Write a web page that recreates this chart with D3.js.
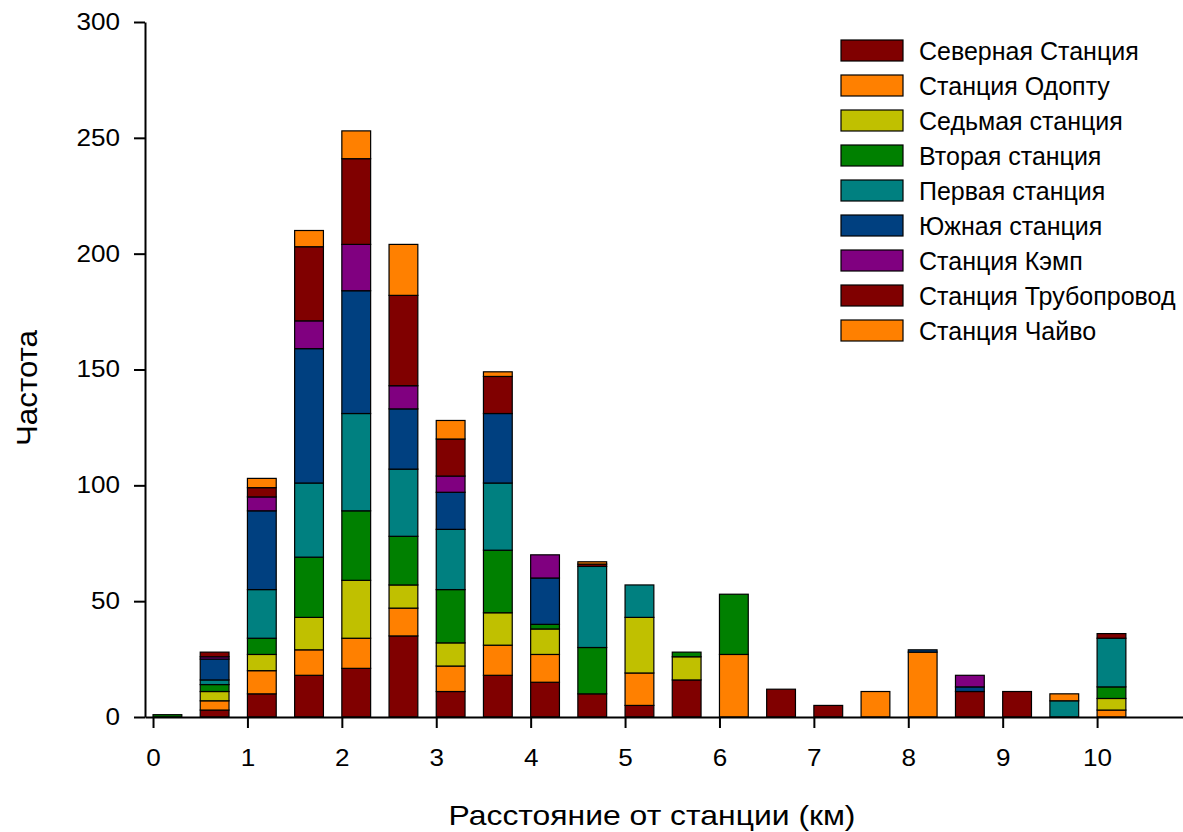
<!DOCTYPE html>
<html>
<head>
<meta charset="utf-8">
<script src="https://cdn.jsdelivr.net/npm/d3@7"></script>
<style>
  body { margin: 0; background: #fff; }
  text { font-family: "Liberation Sans", Arial, sans-serif; }
</style>
</head>
<body>
<svg width="1183" height="832"></svg>
<script>
// left edge of each bin (km)
var bins = [0, 0.5, 1, 1.5, 2, 2.5, 3, 3.5, 4, 4.5, 5, 5.5, 6, 6.5, 7, 7.5, 8, 8.5, 9, 9.5, 10];

var stations = ["Северная Станция", "Станция Одопту", "Седьмая станция", "Вторая станция",
  "Первая станция", "Южная станция", "Станция Кэмп", "Станция Трубопровод", "Станция Чайво"];
var colors = ["#800000", "#ff8000", "#c0c000", "#008000", "#008080", "#004080", "#800080", "#800000", "#ff8000"];

var severnaya   = [0, 3, 10, 18, 21, 35, 11, 18, 15, 10, 5, 16, 0, 12, 5, 0, 0, 11, 11, 0, 0];
var odoptu      = [0, 4, 10, 11, 13, 12, 11, 13, 12, 0, 14, 0, 27, 0, 0, 11, 28, 0, 0, 0, 3];
var sedmaya     = [0, 4, 7, 14, 25, 10, 10, 14, 11, 0, 24, 10, 0, 0, 0, 0, 0, 0, 0, 0, 5];
var vtoraya     = [1, 3, 7, 26, 30, 21, 23, 27, 2, 20, 0, 2, 26, 0, 0, 0, 0, 0, 0, 0, 5];
var pervaya     = [0, 2, 21, 32, 42, 29, 26, 29, 0, 35, 14, 0, 0, 0, 0, 0, 0, 0, 0, 7, 21];
var yuzhnaya    = [0, 9, 34, 58, 53, 26, 16, 30, 20, 0, 0, 0, 0, 0, 0, 0, 1, 2, 0, 0, 0];
var kemp        = [0, 1, 6, 12, 20, 10, 7, 0, 10, 0, 0, 0, 0, 0, 0, 0, 0, 5, 0, 0, 0];
var truboprovod = [0, 2, 4, 32, 37, 39, 16, 16, 0, 1, 0, 0, 0, 0, 0, 0, 0, 0, 0, 0, 2];
var chaivo      = [0, 0, 4, 7, 12, 22, 8, 2, 0, 1, 0, 0, 0, 0, 0, 0, 0, 0, 0, 3, 0];

var series = [severnaya, odoptu, sedmaya, vtoraya, pervaya, yuzhnaya, kemp, truboprovod, chaivo];

var xTicks = [0, 1, 2, 3, 4, 5, 6, 7, 8, 9, 10];
var yTicks = [0, 50, 100, 150, 200, 250, 300];

var svg = d3.select("svg");

var x = d3.scaleLinear().domain([-0.085, 10.91]).range([145, 1183]);
var y = d3.scaleLinear().domain([0, 300]).range([717, 22]);
var barW = x(0.305) - x(0);

// table for d3.stack
var table = bins.map(function (b, i) {
  var row = { bin: b };
  stations.forEach(function (s, k) { row["s" + k] = series[k][i]; });
  return row;
});
var keys = stations.map(function (s, k) { return "s" + k; });
var stacked = d3.stack().keys(keys)(table);

var layers = svg.append("g")
  .selectAll("g")
  .data(stacked)
  .enter()
  .append("g")
  .attr("fill", function (d, k) { return colors[k]; });

layers.selectAll("rect")
  .data(function (d) { return d.filter(function (p) { return p[1] - p[0] > 0; }); })
  .enter()
  .append("rect")
  .attr("x", function (d) { return x(d.data.bin); })
  .attr("width", barW)
  .attr("y", function (d) { return y(d[1]); })
  .attr("height", function (d) { return y(d[0]) - y(d[1]); })
  .attr("stroke", "#000")
  .attr("stroke-width", 1.2);

// axes
var xAxis = svg.append("g")
  .attr("transform", "translate(0,717)")
  .call(d3.axisBottom(x).tickValues(xTicks).tickSize(11).tickSizeOuter(0).tickPadding(22));
var yAxis = svg.append("g")
  .attr("transform", "translate(145,0)")
  .call(d3.axisLeft(y).tickValues(yTicks).tickSize(11).tickSizeOuter(0).tickPadding(14));

[xAxis, yAxis].forEach(function (a) {
  a.select(".domain").attr("stroke", "#000").attr("stroke-width", 2);
  a.selectAll(".tick line").attr("stroke", "#000").attr("stroke-width", 2);
  a.selectAll(".tick text")
    .attr("fill", "#000")
    .style("font-size", "23px")
    .style("font-family", "'Liberation Sans', Arial, sans-serif")
    .attr("textLength", function () { return 14.5 * this.textContent.length; })
    .attr("lengthAdjust", "spacingAndGlyphs");
});

// axis titles
svg.append("text")
  .attr("x", 652)
  .attr("y", 825)
  .attr("text-anchor", "middle")
  .attr("textLength", 407)
  .attr("lengthAdjust", "spacingAndGlyphs")
  .style("font-size", "28px")
  .text("Расстояние от станции (км)");

svg.append("text")
  .attr("transform", "translate(37,388) rotate(-90)")
  .attr("text-anchor", "middle")
  .attr("textLength", 116)
  .attr("lengthAdjust", "spacingAndGlyphs")
  .style("font-size", "30px")
  .text("Частота");

// legend
var legend = svg.append("g")
  .selectAll("g")
  .data(stations)
  .enter()
  .append("g")
  .attr("transform", function (d, i) { return "translate(841," + (40 + i * 35) + ")"; });

legend.append("rect")
  .attr("width", 62)
  .attr("height", 21)
  .attr("fill", function (d, i) { return colors[i]; })
  .attr("stroke", "#000")
  .attr("stroke-width", 1.2);

legend.append("text")
  .attr("x", 78)
  .attr("y", 20)
  .style("font-size", "25px")
  .text(function (d) { return d; });
</script>
</body>
</html>
